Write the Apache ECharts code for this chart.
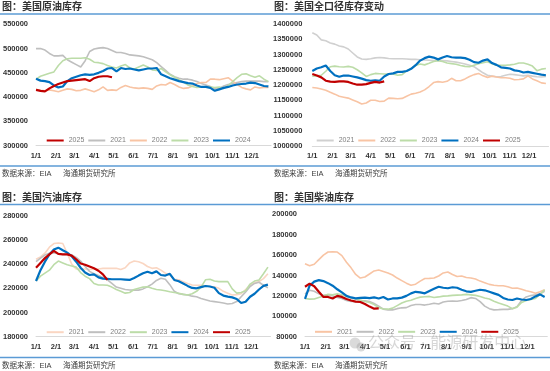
<!DOCTYPE html>
<html><head><meta charset="utf-8">
<script src="https://cdn.jsdelivr.net/npm/echarts@6/dist/echarts.min.js"></script>
<style>
html,body{margin:0;padding:0;background:#fff;}
.c{position:absolute;left:0;top:0;width:550px;height:371px;}
</style>
</head><body>
<div id="c1" class="c"></div><div id="c2" class="c"></div><div id="c3" class="c"></div><div id="c4" class="c"></div>
<script>
// ---------- data ----------
const monthLabels = ['1/1','2/1','3/1','4/1','5/1','6/1','7/1','8/1','9/1','10/1','11/1','12/1'];

// 美国原油库存
const crudeTicks = [300000, 550000, 50000];
const crude2021 = [500000,500000,497000,490000,485000,485000,486000,477000,472000,467000,462000,475000,494000,499000,501000,502000,500000,496000,492000,492000,490000,487000,486000,485000,483000,480000,477000,471000,463000,455000,447000,442000,439000,437000,437000,435000,432000,428000,425000,422000,417000,418000,423000,426000,428000,430000,432000,433000,433000,433000,433000,432000,432000];
const crude2022 = [416000,414000,413000,415000,413000,411000,414000,417000,416000,413000,414000,417000,414000,411000,415000,421000,414000,415000,414000,420000,424000,421000,419000,418000,419000,418000,416000,423000,426000,425000,430000,426000,421000,418000,419000,423000,428000,430000,430000,437000,437000,436000,438000,440000,433000,426000,420000,417000,415000,421000,419000,420000,420000];
const crude2023 = [437000,443000,446000,449000,452000,465000,475000,479000,480000,480000,480000,481000,478000,472000,471000,469000,465000,462000,460000,464000,467000,460000,458000,462000,466000,462000,456000,455000,459000,452000,446000,441000,436000,431000,425000,422000,420000,421000,421000,421000,420000,421000,418000,424000,432000,440000,447000,448000,444000,441000,444000,437000,432000];
const crude2024 = [438000,434000,433000,431000,424000,420000,422000,433000,439000,442000,445000,447000,446000,447000,450000,454000,459000,460000,453000,460000,458000,459000,457000,455000,457000,459000,459000,460000,447000,443000,439000,436000,433000,431000,429000,428000,424000,421000,421000,419000,413000,416000,419000,421000,424000,426000,427000,428000,430000,429000,426000,423000,422000];
const crude2025 = [415000,413000,412000,418000,423000,427000,430000,433000,434000,435000,436000,437000,433000,439000,442000,443000,443000,441000];

// 美国全口径库存变动
const totalTicks = [1000000, 1400000, 50000];
const total2021 = [1371000,1364000,1348000,1345000,1338000,1334000,1328000,1325000,1318000,1305000,1292000,1285000,1284000,1286000,1289000,1290000,1289000,1287000,1286000,1286000,1286000,1285000,1284000,1284000,1283000,1282000,1281000,1280000,1281000,1280000,1279000,1277000,1275000,1272000,1269000,1265000,1260000,1250000,1240000,1232000,1229000,1227000,1228000,1232000,1235000,1234000,1232000,1230000,1232000,1229000,1227000,1226000,1228000];
const total2022 = [1192000,1190000,1187000,1183000,1176000,1170000,1163000,1160000,1157000,1151000,1145000,1138000,1141000,1150000,1150000,1146000,1147000,1157000,1156000,1155000,1156000,1163000,1170000,1173000,1177000,1184000,1195000,1208000,1211000,1209000,1212000,1222000,1214000,1214000,1220000,1228000,1234000,1238000,1230000,1225000,1229000,1226000,1224000,1224000,1222000,1217000,1218000,1220000,1230000,1220000,1214000,1207000,1205000];
const total2023 = [1229000,1230000,1232000,1245000,1260000,1262000,1260000,1259000,1261000,1258000,1250000,1240000,1228000,1234000,1238000,1237000,1236000,1236000,1236000,1232000,1234000,1246000,1254000,1264000,1269000,1266000,1271000,1277000,1280000,1277000,1272000,1270000,1268000,1264000,1261000,1260000,1265000,1270000,1273000,1276000,1270000,1265000,1265000,1265000,1266000,1268000,1272000,1272000,1268000,1262000,1247000,1252000,1254000];
const total2024 = [1246000,1254000,1258000,1264000,1246000,1232000,1227000,1231000,1231000,1228000,1225000,1221000,1216000,1214000,1215000,1214000,1228000,1236000,1238000,1243000,1243000,1246000,1253000,1265000,1280000,1288000,1293000,1290000,1284000,1290000,1295000,1291000,1290000,1290000,1288000,1283000,1275000,1273000,1280000,1284000,1272000,1266000,1258000,1256000,1254000,1248000,1246000,1241000,1243000,1240000,1237000,1234000,1232000];
const total2025 = [1236000,1231000,1225000,1214000,1211000,1210000,1212000,1212000,1210000,1205000,1201000,1201000,1203000,1207000,1210000,1208000,1212000];

// 美国汽油库存
const gasTicks = [180000, 280000, 20000];
const gas2021 = [244000,246000,249000,254000,257000,257500,257000,249000,240000,236000,236000,236000,235500,236000,236000,236500,236500,236500,236500,235500,237000,241000,242500,242000,240500,238000,236500,237000,235000,232500,231000,227500,227000,225500,224000,222700,222500,222500,222000,221500,221300,220000,217500,216000,214500,214800,215500,219000,222500,224500,225500,228000,232000];
const gas2022 = [242000,245000,247500,249000,249500,248500,248000,248000,247500,245500,242500,238000,234000,232000,230500,229000,227000,224000,221000,220000,219000,218600,218500,218500,219500,221300,223500,226500,228300,227500,223000,217500,215500,215000,214500,213500,213000,211500,210500,209500,209000,208500,207800,207000,207500,209000,213000,217000,221500,224000,225000,222500,220500];
const gas2023 = [226000,230000,232500,235000,239500,242500,241000,239500,238500,237500,233000,230000,228000,224000,222700,222700,222500,221000,219000,217500,216000,216500,219000,220000,221000,221300,220000,219000,218600,218000,217200,216500,215900,215000,214500,215500,217500,221000,227000,227500,226000,225500,225500,225500,219500,216000,216500,218000,223500,226000,226900,232000,237500];
const gas2024 = [226000,235000,242000,248000,252000,253600,251500,249500,246500,242000,237000,233000,231000,231500,229000,228000,227800,227500,227500,227500,227200,226900,228500,230500,232400,233700,232500,234000,231000,230500,232000,226900,225800,224000,222000,220300,220000,221000,221900,221500,220500,216000,214000,213100,212500,211200,207800,208900,213000,215500,219000,222000,223000];
const gas2025 = [237000,241000,245000,248000,251000,248500,248000,248000,247000,244000,240500,239500,238000,236500,234500,231500,227000];

// 美国柴油库存
const dieselTicks = [80000, 200000, 20000];
const diesel2021 = [151500,149500,151000,155500,160000,163000,163300,163000,159500,153000,147500,141000,137500,138500,141500,144500,145400,144000,142500,140500,137500,135000,132500,130500,131500,134500,137000,137200,137500,139500,142500,143500,141000,139000,139500,138000,137500,136500,134500,133000,131300,130500,130000,130000,129000,127500,127800,126500,125000,124000,122500,124000,126000];
const diesel2022 = [122000,125500,124500,122000,120500,121000,120000,118500,117500,115500,114500,114400,115000,115300,114500,112500,110000,107000,106300,106300,107500,108300,108500,110500,111500,111500,111000,111800,112800,112000,114000,114800,115000,114800,115500,116500,118300,117500,114400,110000,107500,106300,106500,106800,106800,107500,109500,115500,119000,120300,121000,122000,124500];
const diesel2023 = [117500,116800,117000,118500,120000,121500,121000,122000,121000,119500,118000,117000,116000,114500,113500,111500,108500,107200,107000,108000,110500,113000,114800,115800,117500,118800,119200,119500,118500,119000,119800,120000,120500,120800,121000,121500,121000,120500,119500,118000,117000,114800,113000,111500,110000,107500,109000,113500,115500,116500,117500,121500,126000];
const diesel2024 = [117000,130000,134000,135500,134500,132500,130000,126500,123500,120000,118500,117600,118000,118300,117800,118500,117500,119000,116500,117500,117500,118300,120000,122500,124000,123500,122500,124800,127000,129000,128000,127500,128500,128000,126000,124500,124000,125000,126000,125500,124000,122500,121000,118000,116500,116000,117500,116500,116000,117000,119500,121500,119000];
const diesel2025 = [129000,132000,129500,124000,119000,119000,117500,120000,119000,117000,115500,114400,114000,112000,109500,107500,107800];

// ---------- rendering ----------
const FONT = "'Liberation Sans','Noto Sans CJK SC',sans-serif";
const DAY = 86400000;
const T0 = new Date(2021, 0, 1).getTime();
const STEP = 360 / 52; // days between weekly readings
function pts(vals) { return vals.map((v, i) => [T0 + i * STEP * DAY, v]); }

const C = { red:'#c00000', blue:'#0070c0', gray:'#bfbfbf', gray2:'#d0d0d0', peach:'#f8c4a4', peach2:'#fad6c2', green:'#bcdca8' };
const SRC = '数据来源：EIA';
const SRC2 = '海通期货研究所';

function txt(x, y, text, size, weight, color) {
  return { type:'text', x:x, y:y, z:100, style:{ text:text, fontSize:size, fontWeight:weight, fontFamily:FONT, fill:color, verticalAlign:'middle' } };
}
function hline(x1, x2, y) {
  return { type:'line', z:100, shape:{x1:x1, y1:y, x2:x2, y2:y}, style:{stroke:'#5b9bd5', lineWidth:1.5} };
}

function makeChart(id, p) {
  const chart = echarts.init(document.getElementById(id), null, {renderer:'canvas'});
  const series = p.series.map(s => ({
    type:'line', name:s.name, data:pts(s.data), symbol:'none', showSymbol:false, silent:true,
    lineStyle:{color:s.color, width:s.width}, itemStyle:{color:s.color}, z:s.z || 2
  }));
  chart.setOption({
    animation:false,
    backgroundColor:'transparent',
    grid:{left:p.grid[0], top:p.grid[1], width:p.grid[2], height:p.grid[3], containLabel:false},
    xAxis:{
      type:'time', min:T0, max:T0 + 364 * DAY, splitNumber:12, minInterval:28 * DAY, maxInterval:31 * DAY,
      axisLine:{show:true, lineStyle:{color:'#d9d9d9', width:1}},
      axisTick:{show:false}, splitLine:{show:false},
      axisLabel:{
        formatter:function (v) { const d = new Date(v); return d.getDate() === 1 ? monthLabels[d.getMonth()] : ''; },
        fontSize:7.5, fontWeight:'bold', color:'#333', fontFamily:FONT, margin:6, showMaxLabel:false, hideOverlap:false
      }
    },
    yAxis:{
      type:'value', min:p.ticks[0], max:p.ticks[1], interval:p.ticks[2],
      axisLine:{show:false}, axisTick:{show:false}, splitLine:{show:false},
      axisLabel:{formatter:function (v) { return String(v); }, fontSize:7.5, fontWeight:'bold', color:'#333', fontFamily:FONT, margin:p.labelMargin}
    },
    legend:{
      data:p.legendOrder, left:p.legendPos[0], top:p.legendPos[1], padding:0,
      icon:'rect', itemWidth:17, itemHeight:2, itemGap:4, selectedMode:false,
      textStyle:{fontSize:7, color:'#7f7f7f', fontFamily:FONT}
    },
    series:series,
    graphic:p.graphic
  });
}

// top-left: crude
makeChart('c1', {
  grid:[35, 24.3, 236, 121.4], ticks:crudeTicks, labelMargin:8,
  legendOrder:['2025','2021','2022','2023','2024'], legendPos:[46.7, 137],
  series:[
    {name:'2021', data:crude2021, color:C.gray, width:1.6},
    {name:'2022', data:crude2022, color:C.peach, width:1.6},
    {name:'2023', data:crude2023, color:C.green, width:1.6},
    {name:'2024', data:crude2024, color:C.blue, width:2.2, z:3},
    {name:'2025', data:crude2025, color:C.red, width:2.2, z:4}
  ],
  graphic:[
    txt(2, 7.5, '图：美国原油库存', 10, 'bold', '#333'),
    hline(0, 275, 14), hline(0, 275, 166),
    txt(2, 174, SRC, 7.5, 'normal', '#404040'),
    txt(63, 174, SRC2, 7.5, 'normal', '#404040')
  ]
});

// top-right: total
makeChart('c2', {
  grid:[312.3, 24, 236.2, 122], ticks:totalTicks, labelMargin:10,
  legendOrder:['2021','2022','2023','2024','2025'], legendPos:[316.7, 137],
  series:[
    {name:'2021', data:total2021, color:C.gray2, width:1.6},
    {name:'2022', data:total2022, color:C.peach, width:1.6},
    {name:'2023', data:total2023, color:C.green, width:1.6},
    {name:'2024', data:total2024, color:C.blue, width:2.2, z:3},
    {name:'2025', data:total2025, color:C.red, width:2.2, z:4}
  ],
  graphic:[
    txt(274, 7.5, '图：美国全口径库存变动', 10, 'bold', '#333'),
    hline(275, 550, 14), hline(275, 550, 166),
    txt(274, 174, SRC, 7.5, 'normal', '#404040'),
    txt(335, 174, SRC2, 7.5, 'normal', '#404040')
  ]
});

// bottom-left: gasoline
makeChart('c3', {
  grid:[34.5, 215.7, 236, 121], ticks:gasTicks, labelMargin:8,
  legendOrder:['2021','2022','2023','2024','2025'], legendPos:[46.7, 328.7],
  series:[
    {name:'2021', data:gas2021, color:C.peach2, width:1.6},
    {name:'2022', data:gas2022, color:C.gray, width:1.6},
    {name:'2023', data:gas2023, color:C.green, width:1.6},
    {name:'2024', data:gas2024, color:C.blue, width:2.2, z:3},
    {name:'2025', data:gas2025, color:C.red, width:2.2, z:4}
  ],
  graphic:[
    txt(2, 198, '图：美国汽油库存', 10, 'bold', '#333'),
    hline(0, 275, 204.5), hline(0, 275, 357.5),
    txt(2, 366, SRC, 7.5, 'normal', '#404040'),
    txt(63, 366, SRC2, 7.5, 'normal', '#404040')
  ]
});

// bottom-right: diesel
makeChart('c4', {
  grid:[305, 214.3, 242.3, 122.4], ticks:dieselTicks, labelMargin:8,
  legendOrder:['2021','2022','2023','2024','2025'], legendPos:[315, 328.3],
  series:[
    {name:'2021', data:diesel2021, color:C.peach, width:1.6},
    {name:'2022', data:diesel2022, color:C.gray, width:1.6},
    {name:'2023', data:diesel2023, color:C.green, width:1.6},
    {name:'2024', data:diesel2024, color:C.blue, width:2.2, z:3},
    {name:'2025', data:diesel2025, color:C.red, width:2.2, z:4}
  ],
  graphic:[
    txt(274, 198, '图：美国柴油库存', 10, 'bold', '#333'),
    hline(275, 550, 204.5), hline(275, 550, 357.5),
    txt(274, 366, SRC, 7.5, 'normal', '#404040'),
    txt(335, 366, SRC2, 7.5, 'normal', '#404040'),
    { type:'circle', z:101, shape:{cx:355, cy:343, r:5.5}, style:{fill:'rgba(150,150,150,0.35)'} },
    { type:'circle', z:101, shape:{cx:361, cy:347, r:4.5}, style:{fill:'rgba(150,150,150,0.35)'} },
    { type:'text', x:368, y:344, z:101, style:{ text:'公众号 · 能源研发中心', fontSize:16, fontFamily:FONT, fill:'rgba(140,140,140,0.35)', verticalAlign:'middle' } }
  ]
});
</script>
</body></html>
